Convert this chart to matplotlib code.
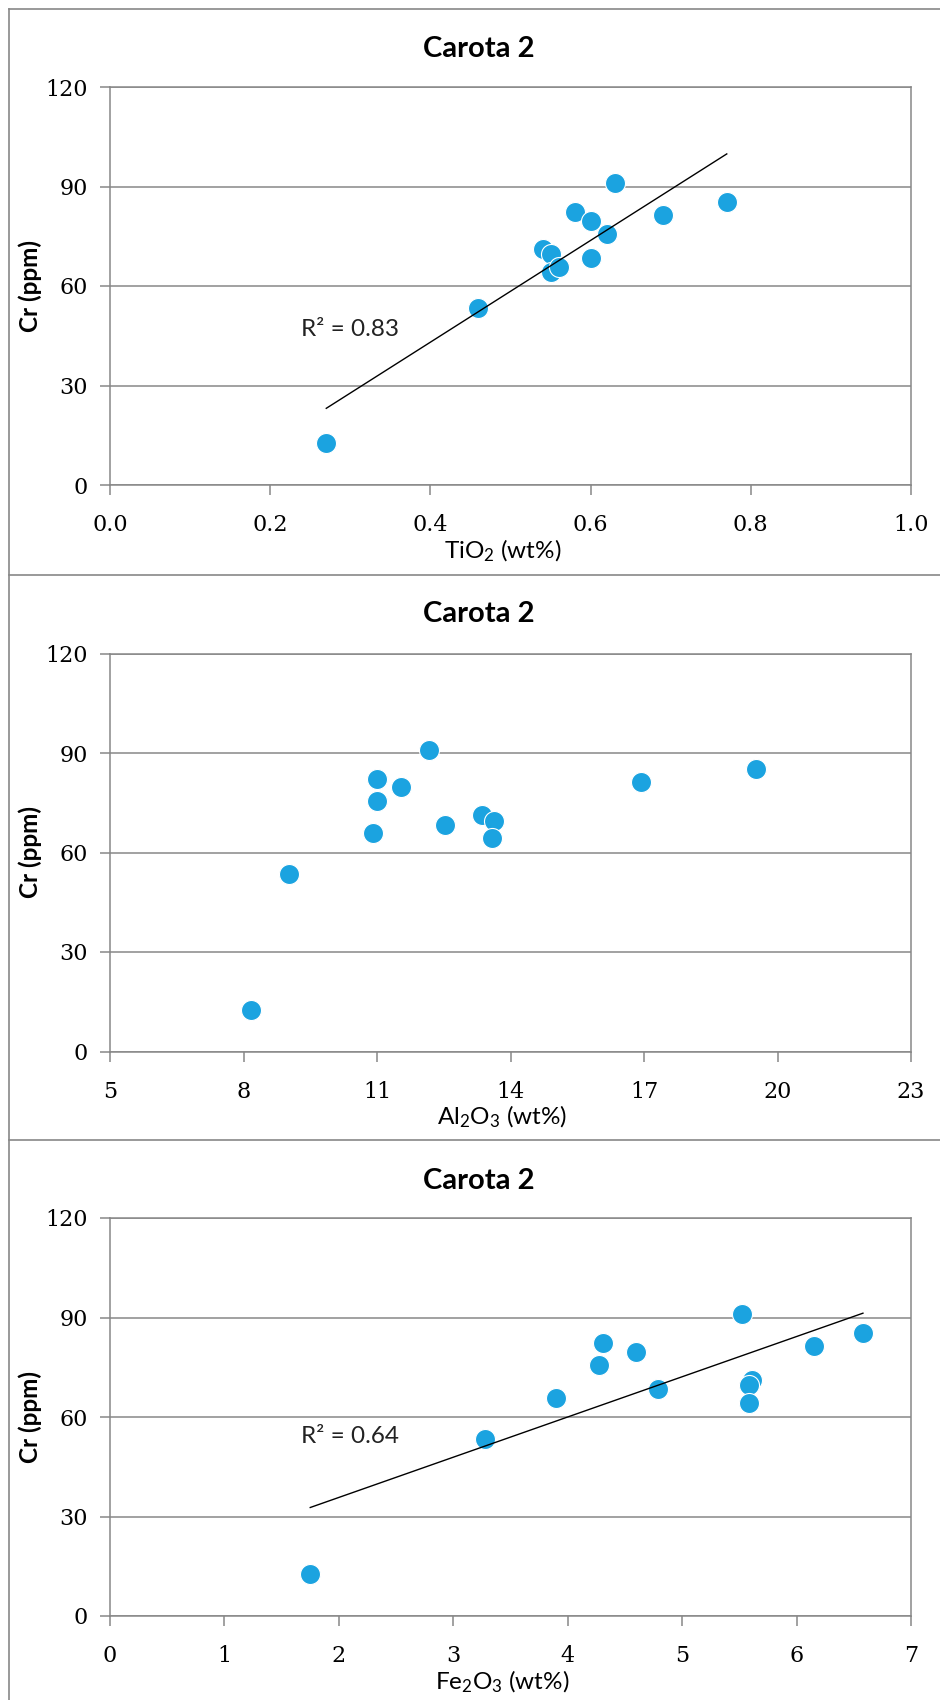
import numpy as np
import matplotlib
matplotlib.use("Agg")
import matplotlib.pyplot as plt
from matplotlib.lines import Line2D

plt.rcParams['font.family'] = ['Lato', 'DejaVu Sans']
plt.rcParams['mathtext.fontset'] = 'custom'
plt.rcParams['mathtext.rm'] = 'Lato'
plt.rcParams['mathtext.it'] = 'Lato'
plt.rcParams['mathtext.bf'] = 'Lato:bold'

# Cr against the three oxides, core 2
cr = [12.6, 53.4, 71.2, 69.6, 64.3, 65.8, 82.2, 79.7, 68.3, 75.6, 91.0, 81.4, 85.3]
tio2 = [0.27, 0.46, 0.54, 0.55, 0.55, 0.56, 0.58, 0.60, 0.60, 0.62, 0.63, 0.69, 0.77]
al2o3 = [8.16, 9.03, 13.37, 13.62, 13.59, 10.90, 11.0, 11.54, 12.53, 11.0, 12.16, 16.94, 19.51]
fe2o3 = [1.75, 3.28, 5.61, 5.58, 5.58, 3.90, 4.31, 4.60, 4.79, 4.27, 5.52, 6.15, 6.58]

titles = ["Carota 2", "Carota 2", "Carota 2"]
xlabels = [r"TiO$_\mathregular{2}$ (wt%)", r"Al$_\mathregular{2}$O$_\mathregular{3}$ (wt%)",
           r"Fe$_\mathregular{2}$O$_\mathregular{3}$ (wt%)"]
ylabel = "Cr (ppm)"
xticks = [[0.0, 0.2, 0.4, 0.6, 0.8, 1.0], [5, 8, 11, 14, 17, 20, 23], [0, 1, 2, 3, 4, 5, 6, 7]]
xticklabels = [["0.0", "0.2", "0.4", "0.6", "0.8", "1.0"],
               ["5", "8", "11", "14", "17", "20", "23"],
               ["0", "1", "2", "3", "4", "5", "6", "7"]]
yticks = [0, 30, 60, 90, 120]
r2_text = ["R² = 0.83", None, "R² = 0.64"]
r2_pos = [(0.2385, 47), None, (1.67, 54)]
trend = [True, False, True]

W, H = 940, 1700
fig = plt.figure(figsize=(W / 100, H / 100), dpi=100)

grey = '#878787'
blue = '#1ba3e0'

# plot-area tops in pixels, and panel title centres
ax_tops = [87, 653.5, 1218]
title_y = [49, 614.5, 1181]
ax_h = 398
ax_left, ax_right = 110, 911

xs = [tio2, al2o3, fe2o3]
for i in range(3):
    ax = fig.add_axes([ax_left / W, 1 - (ax_tops[i] + ax_h) / H,
                       (ax_right - ax_left) / W, ax_h / H])
    x = np.array(xs[i])
    y = np.array(cr)
    ax.scatter(x, y, s=20 ** 2 * 0.52, color=blue, edgecolors='white',
               linewidths=0.8, zorder=3)
    if trend[i]:
        m, b = np.polyfit(x, y, 1)
        xx = np.array([x.min(), x.max()])
        ax.plot(xx, m * xx + b, color='black', lw=1.0, zorder=4)
        ax.text(r2_pos[i][0], r2_pos[i][1], r2_text[i], fontsize=17.5,
                ha='left', va='center', color='#222222', zorder=5)

    ax.set_xlim(xticks[i][0], xticks[i][-1])
    ax.set_ylim(0, 120)
    ax.set_xticks(xticks[i])
    ax.set_xticklabels(xticklabels[i])
    ax.set_yticks(yticks)
    ax.set_yticklabels([str(v) for v in yticks])
    for lab in ax.get_xticklabels() + ax.get_yticklabels():
        lab.set_fontfamily('DejaVu Serif')
        lab.set_fontsize(16)
    ax.tick_params(axis='x', direction='out', length=7, width=1.1, color=grey, pad=14)
    ax.tick_params(axis='y', direction='out', length=7, width=1.1, color=grey, pad=9)
    ax.yaxis.grid(True, color=grey, lw=1.1)
    ax.set_axisbelow(True)
    for sp in ax.spines.values():
        sp.set_color(grey)
        sp.set_linewidth(1.1)

    ax.set_xlabel(xlabels[i], fontsize=17.5, labelpad=1)
    ax.xaxis.label.set_x(0.49)
    ax.set_ylabel(ylabel, fontsize=17.5, fontweight='bold')
    ax.yaxis.set_label_coords(-0.085, 0.5)
    fig.text(479 / W, 1 - title_y[i] / H, titles[i], fontsize=21,
             fontweight='bold', ha='center', va='center')

# chart frames
fig.add_artist(Line2D([9 / W, 9 / W], [0, 1 - 9 / H], color=grey, lw=1.2))
for yy in [9, 575, 1140]:
    fig.add_artist(Line2D([9 / W, 1], [1 - yy / H, 1 - yy / H], color=grey, lw=1.2))

fig.savefig("out.png", dpi=100, facecolor='white')
